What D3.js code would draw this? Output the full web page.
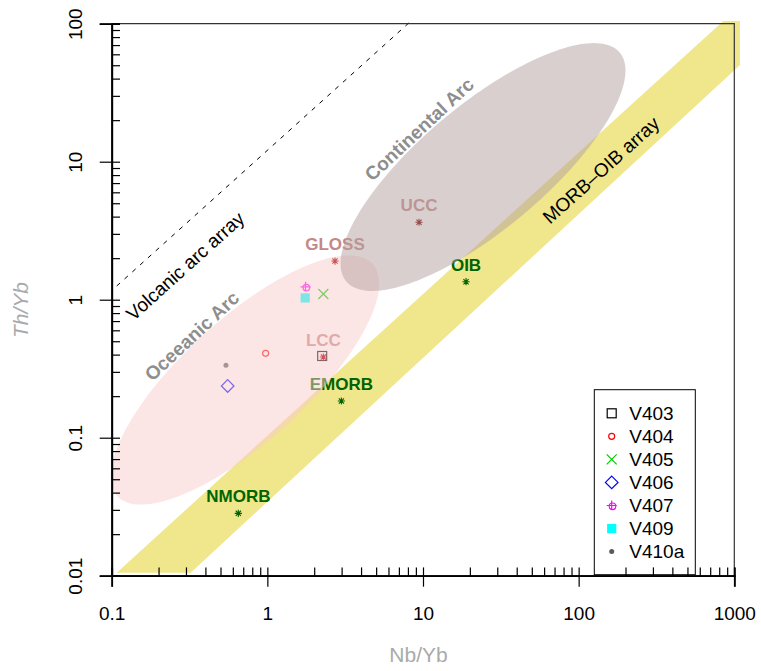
<!DOCTYPE html>
<html>
<head>
<meta charset="utf-8">
<script src="https://cdn.jsdelivr.net/npm/d3@7"></script>
<style>
  html, body { margin: 0; padding: 0; background: #fff; }
  svg { display: block; font-family: "Liberation Sans", Arial, Helvetica, sans-serif; }
</style>
</head>
<body>
<svg id="chart" width="761" height="671"></svg>
<script>
// ---------------- data ----------------
const xTicks = [0.1, 1, 10, 100, 1000];
const xTickLabels = ["0.1", "1", "10", "100", "1000"];
const yTicks = [0.01, 0.1, 1, 10, 100];
const yTickLabels = ["0.01", "0.1", "1", "10", "100"];

// samples
const samples = ["V403", "V404", "V405", "V406", "V407", "V409", "V410a"];
const sampleNbYb = [2.25, 0.975, 2.29, 0.556, 1.76, 1.75, 0.542];
const sampleThYb = [0.391, 0.409, 1.10, 0.237, 1.24, 1.03, 0.335];
const sampleColors = ["#000000", "#ff0000", "#00cd00", "#0000ff", "#ff00ff", "#00ffff", "#5a5a5a"];
const sampleShapes = ["square", "circle", "cross", "diamond", "circleplus", "filledsquare", "dot"];

// reference compositions
const refNames = ["GLOSS", "UCC", "LCC", "EMORB", "NMORB", "OIB"];
const refNbYb = [2.72, 9.43, 2.29, 2.99, 0.651, 18.9];
const refThYb = [1.905, 3.64, 0.384, 0.1845, 0.0283, 1.35];
const refLabelColors = ["#c48888", "#c48888", "#c48888", "#006400", "#006400", "#006400"];
const refStarColors = ["#c85858", "#9a4c4c", "#d85060", "#006400", "#006400", "#006400"];

// MORB-OIB array polygon (Nb/Yb, Th/Yb)
const bandNbYb = [0.1077, 850, 1088, 1088, 0.3217];
const bandThYb = [0.01052, 104.6, 104.6, 50.2, 0.01052];

// Volcanic arc array line
const arcLineNbYb = [0.1077, 8.37];
const arcLineThYb = [1.257, 104.6];

// fields: centre (Nb/Yb, Th/Yb), semi-axes in log10 units, rotation (deg, log space)
const fieldNames = ["Oceeanic Arc", "Continental Arc"];
const fieldCenterNbYb = [0.718, 24.3];
const fieldCenterThYb = [0.262, 9.15];
const fieldSemiMajor = [1.176, 1.209];
const fieldSemiMinor = [0.419, 0.427];
const fieldAngle = [46.7, 44.3];
const fieldLabelNbYb = [0.3266, 9.43];
const fieldLabelThYb = [0.5474, 17.26];

// line annotations
const noteTexts = ["Volcanic arc array", "MORB\u2013OIB array"];
const noteNbYb = [0.296, 138.8];
const noteThYb = [1.761, 8.71];

// ---------------- chart ----------------
const svg = d3.select("#chart");
const x = d3.scaleLog().domain([0.1, 1000]).range([111.7, 734.3]);
const y = d3.scaleLog().domain([0.01, 100]).range([575.7, 23.7]);
const FONT = "Liberation Sans, Arial, Helvetica, sans-serif";

// band
const bandPts = bandNbYb.map((v, i) => [x(v), y(bandThYb[i])]);
svg.append("path")
  .attr("d", d3.line()(bandPts) + "Z")
  .attr("fill", "#f0e68c");

// reference labels (underneath the fields)
refNames.forEach((n, i) => {
  svg.append("text")
    .attr("x", x(refNbYb[i]))
    .attr("y", y(refThYb[i]) - 17)
    .attr("dy", "0.36em")
    .attr("text-anchor", "middle")
    .attr("font-weight", "bold")
    .attr("font-size", 17)
    .attr("fill", refLabelColors[i])
    .text(n);
});

// symbol drawer
function drawSymbol(g, shape, cx, cy, color) {
  const sw = 1.2;
  switch (shape) {
    case "square":
      g.append("rect").attr("x", cx - 4.5).attr("y", cy - 4.5).attr("width", 9).attr("height", 9)
        .attr("fill", "none").attr("stroke", color).attr("stroke-width", sw);
      break;
    case "circle":
      g.append("circle").attr("cx", cx).attr("cy", cy).attr("r", 3)
        .attr("fill", "none").attr("stroke", color).attr("stroke-width", sw);
      break;
    case "cross":
      g.append("path").attr("d", `M${cx-5},${cy-5}L${cx+5},${cy+5}M${cx-5},${cy+5}L${cx+5},${cy-5}`)
        .attr("stroke", color).attr("stroke-width", sw).attr("fill", "none");
      break;
    case "diamond":
      g.append("path").attr("d", `M${cx},${cy-6.3}L${cx+6.3},${cy}L${cx},${cy+6.3}L${cx-6.3},${cy}Z`)
        .attr("stroke", color).attr("stroke-width", sw).attr("fill", "none");
      break;
    case "circleplus":
      g.append("circle").attr("cx", cx + 0.8).attr("cy", cy + 0.8).attr("r", 3.3)
        .attr("fill", "none").attr("stroke", color).attr("stroke-width", sw);
      g.append("path").attr("d", `M${cx-5},${cy}L${cx+5},${cy}M${cx},${cy-5}L${cx},${cy+4}`)
        .attr("stroke", color).attr("stroke-width", sw);
      break;
    case "filledsquare":
      g.append("rect").attr("x", cx - 4.6).attr("y", cy - 4.6).attr("width", 9.2).attr("height", 9.2)
        .attr("fill", color);
      break;
    case "dot":
      g.append("circle").attr("cx", cx).attr("cy", cy).attr("r", 2.5).attr("fill", color);
      break;
  }
}

// sample points
const gPts = svg.append("g");
samples.forEach((s, i) => {
  drawSymbol(gPts, sampleShapes[i], x(sampleNbYb[i]), y(sampleThYb[i]), sampleColors[i]);
});

// fields (ellipses in log space)
const fieldFill = ["rgb(250,204,204)", "rgb(179,159,159)"];
fieldNames.forEach((n, k) => {
  const cx = Math.log10(fieldCenterNbYb[k]), cy = Math.log10(fieldCenterThYb[k]);
  const a = fieldSemiMajor[k], b = fieldSemiMinor[k];
  const phi = fieldAngle[k] * Math.PI / 180;
  const pts = d3.range(0, 181).map(j => {
    const t = j / 180 * 2 * Math.PI;
    const lx = cx + a * Math.cos(phi) * Math.cos(t) - b * Math.sin(phi) * Math.sin(t);
    const ly = cy + a * Math.sin(phi) * Math.cos(t) + b * Math.cos(phi) * Math.sin(t);
    return [x(Math.pow(10, lx)), y(Math.pow(10, ly))];
  });
  svg.append("path").attr("d", d3.line()(pts) + "Z")
    .attr("fill", fieldFill[k]).attr("fill-opacity", 0.5);
});

// reference stars
refNames.forEach((n, i) => {
  const cx = x(refNbYb[i]), cy = y(refThYb[i]), r = 3.6, d = r * 0.72;
  svg.append("path")
    .attr("d", `M${cx-r},${cy}L${cx+r},${cy}M${cx},${cy-r}L${cx},${cy+r}M${cx-d},${cy-d}L${cx+d},${cy+d}M${cx-d},${cy+d}L${cx+d},${cy-d}`)
    .attr("stroke", refStarColors[i]).attr("stroke-width", 1.1);
});

// field labels
const pxAngle = -43;
fieldNames.forEach((n, k) => {
  const px = x(fieldLabelNbYb[k]), py = y(fieldLabelThYb[k]);
  svg.append("text")
    .attr("transform", `translate(${px},${py}) rotate(${pxAngle})`)
    .attr("text-anchor", "middle").attr("dy", "0.36em")
    .attr("font-weight", "bold").attr("font-size", 19)
    .attr("fill", "#8e8e8e")
    .text(n);
});

// volcanic arc array line
svg.append("line")
  .attr("x1", x(arcLineNbYb[0])).attr("y1", y(arcLineThYb[0]))
  .attr("x2", x(arcLineNbYb[1])).attr("y2", y(arcLineThYb[1]))
  .attr("stroke", "#000").attr("stroke-width", 1)
  .attr("stroke-dasharray", "4.5,6");

// notes
noteTexts.forEach((t, i) => {
  svg.append("text")
    .attr("transform", `translate(${x(noteNbYb[i])},${y(noteThYb[i])}) rotate(-42)`)
    .attr("text-anchor", "middle").attr("dy", "0.36em")
    .attr("font-size", 19).attr("fill", "#000")
    .text(t);
});

// legend
const lg = svg.append("g");
lg.append("rect").attr("x", 594.3).attr("y", 389.7).attr("width", 101).attr("height", 185)
  .attr("fill", "#fff").attr("stroke", "#000").attr("stroke-width", 1);
samples.forEach((s, i) => {
  const cy = 413.3 + i * 23.05;
  drawSymbol(lg, sampleShapes[i], 611.7, cy, sampleColors[i]);
  lg.append("text").attr("x", 629.3).attr("y", cy).attr("dy", "0.36em")
    .attr("font-size", 19).attr("fill", "#000").text(s);
});

// frame: top and right
svg.append("path")
  .attr("d", `M${x(0.1)},${y(100)}H${x(1000)}V${y(0.01)}`)
  .attr("fill", "none").attr("stroke", "#333").attr("stroke-width", 1.2);

// minor (inward) ticks
const minorX = [];
[0.1, 1, 10, 100].forEach(d => { for (let m = 1; m <= 9; m++) minorX.push(d * m); });
minorX.push(1000);
const minorY = [];
[0.01, 0.1, 1, 10].forEach(d => { for (let m = 1; m <= 9; m++) minorY.push(d * m); });
minorY.push(100);

const xAxisMinor = svg.append("g").attr("transform", `translate(0,${y(0.01)})`)
  .call(d3.axisBottom(x).tickValues(minorX).tickSize(-8.3).tickFormat(""));
const xAxisMajor = svg.append("g").attr("transform", `translate(0,${y(0.01)})`)
  .call(d3.axisBottom(x).tickValues(xTicks).tickSize(11).tickPadding(0)
    .tickFormat((d, i) => xTickLabels[i]));
const yAxisMinor = svg.append("g").attr("transform", `translate(${x(0.1)},0)`)
  .call(d3.axisLeft(y).tickValues(minorY).tickSize(-8.3).tickFormat(""));
const yAxisMajor = svg.append("g").attr("transform", `translate(${x(0.1)},0)`)
  .call(d3.axisLeft(y).tickValues(yTicks).tickSize(12).tickFormat((d, i) => yTickLabels[i]));

[xAxisMinor, xAxisMajor, yAxisMinor, yAxisMajor].forEach(g => {
  g.selectAll(".tick line").attr("stroke", "#000").attr("stroke-width", 1.2);
  g.select(".domain").attr("stroke", "#000").attr("stroke-width", 1.8);
});
xAxisMajor.selectAll(".tick text")
  .attr("y", 0).attr("dy", 0)
  .attr("transform", "translate(0,43.8)")
  .attr("font-size", 19).attr("font-family", FONT).attr("fill", "#000");
yAxisMajor.selectAll(".tick text")
  .attr("x", 0).attr("dy", 0)
  .attr("text-anchor", "middle")
  .attr("transform", "translate(-30,0) rotate(-90)")
  .attr("font-size", 19).attr("font-family", FONT).attr("fill", "#000");

// axis titles
svg.append("text").attr("x", 418.5).attr("y", 661.5).attr("text-anchor", "middle")
  .attr("font-size", 21).attr("fill", "#aaaaaa").text("Nb/Yb");
svg.append("text").attr("transform", "translate(28.3,310) rotate(-90)")
  .attr("text-anchor", "middle").attr("font-size", 21).attr("font-style", "italic")
  .attr("fill", "#aaaaaa").text("Th/Yb");
</script>
</body>
</html>
